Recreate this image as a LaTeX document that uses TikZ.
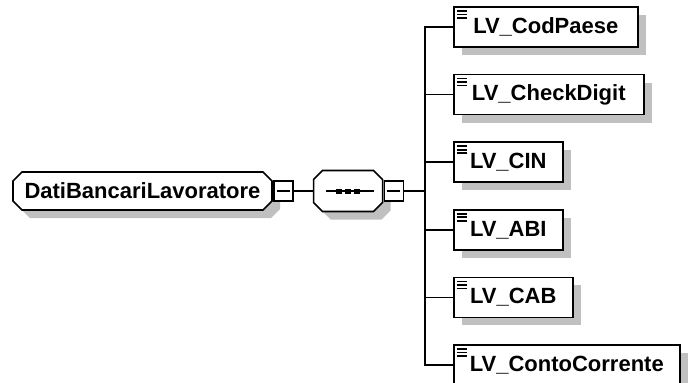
\documentclass[tikz,border=0pt]{standalone}
\usepackage{fontspec}
\setmainfont{Liberation Sans}
\usetikzlibrary{positioning, shadows, backgrounds}
\definecolor{shadowgray}{RGB}{192,192,192}
\tikzset{
	every node/.append style={
		font=\fontsize{22}{26}\selectfont\bfseries,
	},
	boxshadow/.style={
		drop shadow={shadow xshift=8pt, shadow yshift=-8pt, fill=shadowgray, opacity=1},
	},
	octa/.style={
		inner sep=0pt,
		outer sep=0pt,
	},
	octapath/.style={
		insert path={
			([xshift=9pt]#1.north west) -- ([xshift=-9pt]#1.north east)
			-- ([yshift=-9pt]#1.north east) -- ([yshift=9pt]#1.south east)
			-- ([xshift=-9pt]#1.south east) -- ([xshift=9pt]#1.south west)
			-- ([yshift=9pt]#1.south west) -- ([yshift=-9pt]#1.north west) -- cycle
		}
	},
	minusbox/.style={
		draw,
		fill=white,
		minimum width=19pt,
		minimum height=20pt,
		inner sep=0pt,
		path picture={
			\draw[line width=1.5pt] ([xshift=3pt]path picture bounding box.west) -- ([xshift=-3pt]path picture bounding box.east);
		}
	},
	seqsym/.style={
		path picture={
			\draw[line width=1.5pt] ([xshift=12pt]path picture bounding box.west) -- ([xshift=-9pt]path picture bounding box.east);
			\foreach \d in {-9,0,9}
				\fill ([xshift=\d pt]path picture bounding box.center) +(-3pt,-2.5pt) rectangle +(3pt,2.5pt);
		}
	},
	elem/.style={
		draw,
		fill=white,
		minimum height=40pt,
		inner xsep=2pt,
		inner ysep=2pt,
		boxshadow,
		path picture={
			\foreach \k in {4,7.5,11}
				\draw[line width=1.7pt] ([xshift=3pt, yshift=-\k pt]path picture bounding box.north west) -- ++(10pt,0pt);
		}
	}
}

\begin{document}
\begin{tikzpicture}[x=1pt, y=-1pt, line width=1.6pt]
	\useasboundingbox (0,0) rectangle (689,383);

	\node(root)[octa, minimum width=259pt, minimum height=38pt, anchor=west] at (13,191) {DatiBancariLavoratore};
	\node(rootminus)[minusbox, right=1pt of root]{};
	\node(seq)[octa, seqsym, minimum width=69pt, minimum height=41pt, right=20pt of rootminus]{};
	\node(seqminus)[minusbox, right=1pt of seq]{};
	\coordinate[right=21pt of seqminus](trunk);

	\node(cod)[elem, minimum width=184pt, anchor=west] at (453,27){LV\_CodPaese};
	\node(chk)[elem, minimum width=190pt, below=26pt of cod.south west, anchor=north west]{LV\_CheckDigit};
	\node(cin)[elem, minimum width=109pt, below=26pt of chk.south west, anchor=north west]{LV\_CIN};
	\node(abi)[elem, minimum width=109pt, below=26pt of cin.south west, anchor=north west]{LV\_ABI};
	\node(cab)[elem, minimum width=119pt, below=26pt of abi.south west, anchor=north west]{LV\_CAB};
	\node(conto)[elem, minimum width=226pt, below=26pt of cab.south west, anchor=north west]{LV\_ContoCorrente};

	% octagon outlines behind the two compositor nodes
	\begin{scope}[on background layer]
		\foreach \oct in {root, seq}{
			\fill[shadowgray, transform canvas={shift={(8pt,-8pt)}}, octapath=\oct];
			\draw[line width=1.6pt, fill=white, octapath=\oct];
		}
	\end{scope}

	\draw (rootminus) -- (seq);
	\draw (seqminus) -- (trunk);
	\draw (cod.west) -- (trunk |- cod.west) -- (trunk |- conto.west) -- (conto.west);
	\foreach \el in {chk, cin, abi, cab}{
		\draw (trunk |- \el.west) -- (\el.west);
	}
\end{tikzpicture}
\end{document}
